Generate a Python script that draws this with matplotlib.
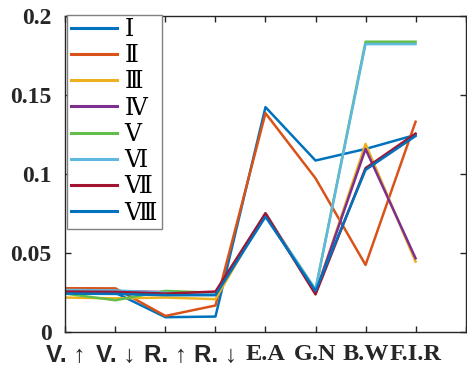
import matplotlib
matplotlib.use('Agg')
import matplotlib.pyplot as plt

x = [1, 2, 3, 4, 5, 6, 7, 8]
xlabels = ['V. ↑', 'V. ↓', 'R. ↑', 'R. ↓', 'E.A', 'G.N', 'B.W', 'F.I.R']
names = ['Ⅰ', 'Ⅱ', 'Ⅲ', 'Ⅳ', 'Ⅴ', 'Ⅵ', 'Ⅶ', 'Ⅷ']

s1 = [0.0255, 0.0250, 0.0096, 0.0100, 0.1422, 0.1085, 0.1158, 0.1247]
s2 = [0.0279, 0.0278, 0.0104, 0.0170, 0.1384, 0.0973, 0.0426, 0.1330]
s3 = [0.0220, 0.0215, 0.0220, 0.0210, 0.0752, 0.0245, 0.1190, 0.0447]
s4 = [0.0265, 0.0260, 0.0255, 0.0250, 0.0752, 0.0250, 0.1158, 0.0468]
s5 = [0.0245, 0.0203, 0.0262, 0.0250, 0.0742, 0.0270, 0.1835, 0.1835]
s6 = [0.0268, 0.0265, 0.0250, 0.0240, 0.0742, 0.0270, 0.1820, 0.1820]
s7 = [0.0258, 0.0256, 0.0245, 0.0258, 0.0750, 0.0240, 0.1037, 0.1255]
s8 = [0.0245, 0.0243, 0.0235, 0.0235, 0.0730, 0.0262, 0.1026, 0.1240]
series = [s1, s2, s3, s4, s5, s6, s7, s8]

colors = ['#0072BD', '#D95319', '#EDB120', '#7E2F8E', '#62BE48', '#5EB8E0', '#A2142F', '#0072BD']

fig = plt.figure(figsize=(4.67, 3.71), dpi=100)
ax = fig.add_axes([0.140, 0.104, 0.857, 0.854])

for s, c, n in zip(series, colors, names):
    ax.plot(x, s, color=c, lw=1.8, label=n)

ax.set_xlim(1, 9)
ax.set_ylim(0, 0.2)
ax.set_xticks(range(1, 10))
ax.set_xticklabels(xlabels + [''])
ax.set_yticks([0, 0.05, 0.1, 0.15, 0.2])
ax.set_yticklabels(['0', '0.05', '0.1', '0.15', '0.2'],
                   family='Liberation Serif', fontweight='bold', fontsize=17)
for i, t in enumerate(ax.get_xticklabels()):
    if i < 4:
        t.set_family(['Liberation Sans', 'DejaVu Sans'])
    else:
        t.set_family('Liberation Serif')
    t.set_fontweight('bold')
    t.set_fontsize(17.5)

ax.tick_params(direction='in', top=True, right=True, length=4, width=1, colors='#262626')
ax.tick_params(axis='x', pad=8)
ax.tick_params(axis='y', pad=10)
for sp in ax.spines.values():
    sp.set_color('#262626')
    sp.set_linewidth(1)

leg = ax.legend(loc='upper left', bbox_to_anchor=(0.003, 1.003), fancybox=False,
                edgecolor='#808080', framealpha=1, handlelength=1.95,
                handletextpad=0.3, labelspacing=0.2, borderaxespad=0,
                borderpad=0.2,
                prop={'family': ['Liberation Serif', 'DejaVu Serif', 'Noto Sans CJK SC'],
                      'size': 17})
for l in leg.get_lines():
    l.set_linewidth(2.2)

fig.savefig('out.png', dpi=100)
